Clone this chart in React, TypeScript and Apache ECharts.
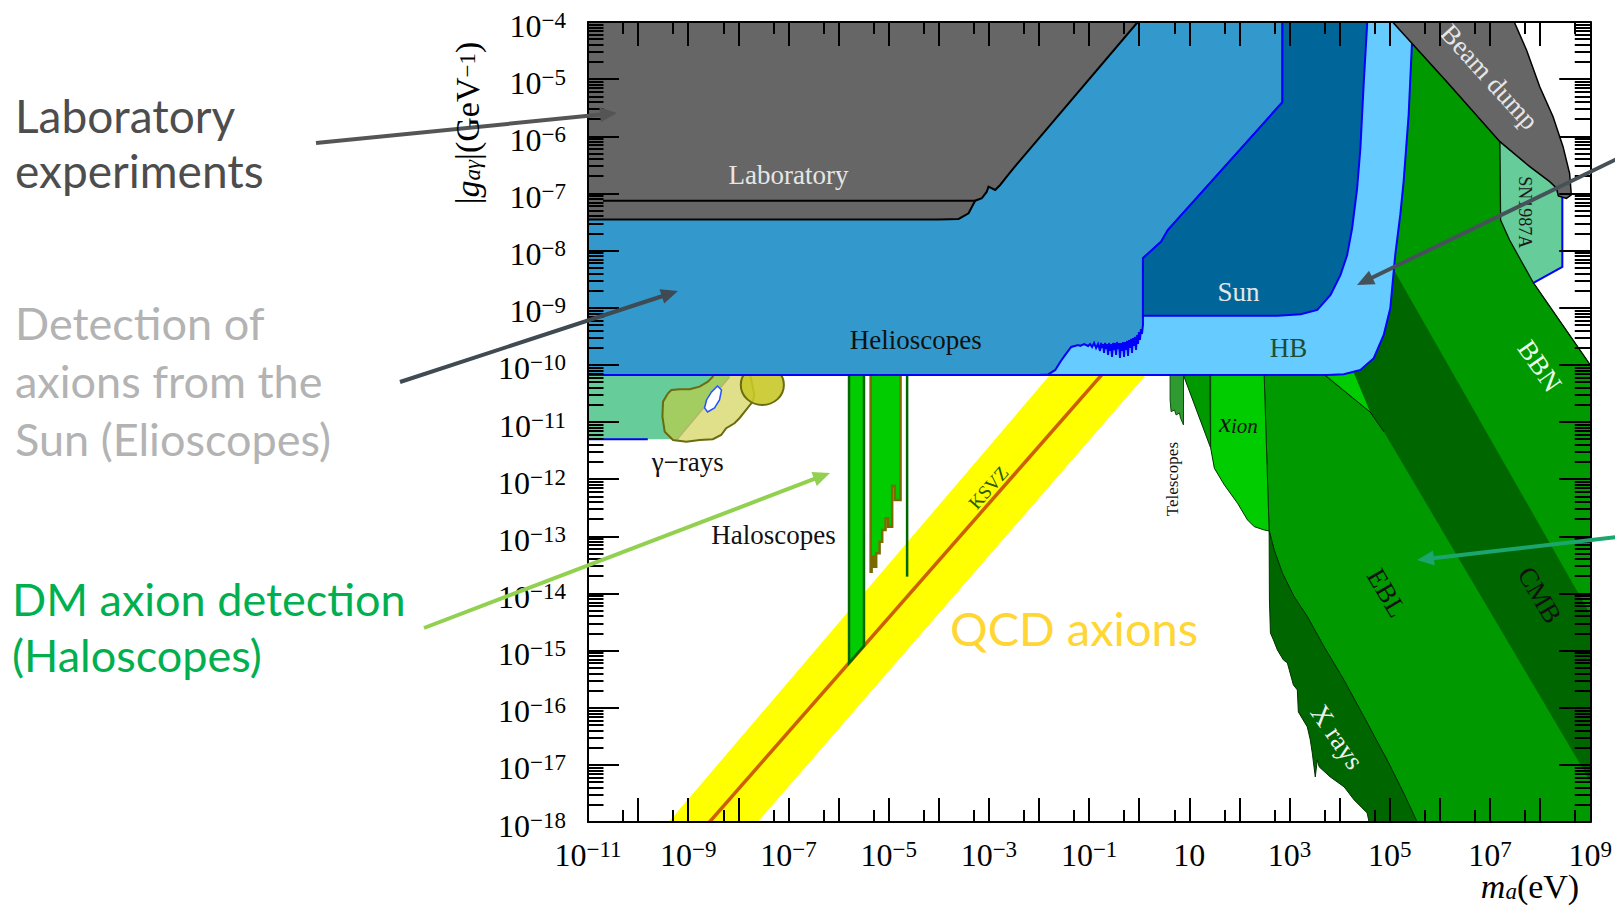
import React, { useEffect, useRef } from 'react';
import * as echarts from 'echarts';

// Axes: log10 of axion mass (eV) and log10 of |g| (GeV^-1)
const X_MIN = -11, X_MAX = 9, Y_MIN = -18, Y_MAX = -4;
const xLabelExps = [-11, -9, -7, -5, -3, -1, 1, 3, 5, 7, 9];
const yLabelExps = [-18, -17, -16, -15, -14, -13, -12, -11, -10, -9, -8, -7, -6, -5, -4];

// ---- regions, points are [log10 m_a, log10 g] ----
const laboratory = [[-11.5, -3.8], [0.15, -3.8], [-0.03, -4.0], [-2.511, -6.56], [-2.644, -6.707], [-2.775, -6.852], [-2.875, -6.94], [-3.008, -6.882], [-3.042, -6.969], [-3.141, -7.085], [-3.273, -7.127], [-3.32, -7.202], [-3.406, -7.347], [-3.604, -7.447], [-4.002, -7.456], [-11.5, -7.456]];
const labUpperLine = [[-10.7, -7.127], [-3.273, -7.127]];

const helioscopes = [[-11.5, -3.8], [2.857, -3.8], [2.857, -5.405], [0.571, -7.64], [0.437, -7.844], [0.107, -8.107], [0.074, -8.135], [0.074, -9.302],
  [0.054, -9.46], [0.034, -9.372], [0.014, -9.565], [-0.006, -9.425], [-0.025, -9.635], [-0.045, -9.477], [-0.065, -9.74], [-0.085, -9.512], [-0.105, -9.67], [-0.125, -9.53], [-0.145, -9.792], [-0.165, -9.547], [-0.185, -9.705], [-0.205, -9.565], [-0.224, -9.845], [-0.244, -9.582], [-0.264, -9.74], [-0.284, -9.6], [-0.304, -9.862], [-0.324, -9.6], [-0.344, -9.757], [-0.364, -9.617], [-0.384, -9.88], [-0.404, -9.617], [-0.423, -9.722], [-0.443, -9.6], [-0.463, -9.827], [-0.483, -9.617], [-0.503, -9.74], [-0.523, -9.617], [-0.543, -9.862], [-0.563, -9.635], [-0.583, -9.757], [-0.603, -9.617], [-0.622, -9.827], [-0.642, -9.635], [-0.662, -9.722], [-0.682, -9.617], [-0.702, -9.792], [-0.722, -9.635], [-0.742, -9.705], [-0.762, -9.617], [-0.782, -9.757], [-0.821, -9.635], [-0.861, -9.705], [-0.901, -9.617], [-0.941, -9.687], [-0.98, -9.635], [-1.02, -9.67], [-1.1, -9.635], [-1.179, -9.67], [-1.219, -9.652],
  [-1.358, -9.687], [-1.477, -9.827], [-1.577, -9.949], [-1.676, -10.089], [-1.815, -10.168], [-2.014, -10.177], [-11.5, -10.177]];

const sun = [[2.857, -3.8], [4.56, -3.8], [4.547, -4.052], [4.481, -5.045], [4.413, -6.21], [4.348, -6.91], [4.248, -7.61], [4.149, -8.077], [4.016, -8.427], [3.817, -8.777], [3.553, -9.039], [3.221, -9.115], [2.757, -9.139], [0.074, -9.139], [0.074, -8.135], [0.107, -8.107], [0.437, -7.844], [0.571, -7.64], [2.857, -5.405]];

const horizontalBranch = [[-2.014, -3.8], [5.48, -3.8], [5.441, -4.402], [5.376, -5.627], [5.276, -6.794], [5.209, -7.377], [5.109, -8.077], [5.01, -9.01], [4.879, -9.477], [4.68, -9.884], [4.414, -10.089], [4.083, -10.164], [3.751, -10.177], [-2.014, -10.177]];

const gammaTeal = [[-11.5, -10.1], [-8.1, -10.1], [-8.177, -10.212], [-9.231, -11.3], [-11.5, -11.3]];
const gammaEdge = [[-8.177, -10.212], [-9.231, -11.314]];
const gammaBottom = [[-11.5, -11.3], [-9.807, -11.3]];
const gammaBlob = [[-9.336, -10.439], [-9.171, -10.427], [-8.972, -10.427], [-8.773, -10.381], [-8.608, -10.294], [-8.509, -10.206], [-8.51, -10.1], [-7.78, -10.1], [-7.68, -10.53], [-7.714, -10.644], [-7.845, -10.789], [-7.978, -10.934], [-8.077, -11.022], [-8.243, -11.109], [-8.342, -11.227], [-8.509, -11.302], [-8.773, -11.314], [-9.038, -11.344], [-9.304, -11.314], [-9.469, -11.169], [-9.515, -10.906], [-9.503, -10.644], [-9.404, -10.497]];
const gammaDiskCenter = [-7.521, -10.352];
const gammaDiskRadii = [0.43, 0.35];
const gammaHole = [[-8.416, -10.369], [-8.336, -10.439], [-8.376, -10.614], [-8.475, -10.754], [-8.614, -10.824], [-8.674, -10.754], [-8.634, -10.614], [-8.535, -10.474]];

const qcdBand = [[-9.68, -18.3], [-1.61, -10.0], [0.31, -10.0], [-7.91, -18.3]];
const ksvzLine = [[-8.875, -18.3], [-0.575, -10.0]];

const haloscope1 = [[-5.791, -10.1], [-5.493, -10.1], [-5.493, -14.918], [-5.791, -15.216]];
const haloscope2 = [[-5.36, -10.1], [-4.763, -10.1], [-4.763, -12.364], [-4.877, -12.364], [-4.877, -12.119], [-4.93, -12.119], [-4.93, -12.831], [-5.01, -12.831], [-5.01, -12.684], [-5.062, -12.684], [-5.062, -12.889], [-5.129, -12.889], [-5.129, -13.094], [-5.181, -13.094], [-5.181, -13.297], [-5.249, -13.297], [-5.249, -13.531], [-5.294, -13.531], [-5.294, -13.356], [-5.34, -13.356], [-5.34, -13.619], [-5.36, -13.619]];
const haloscope3 = [[-4.632, -10.1], [-4.632, -13.706]];

const telescopes = [[0.616, -10.15], [0.883, -10.15], [0.883, -11.052], [0.823, -10.929], [0.803, -10.842], [0.736, -10.877], [0.704, -10.789], [0.636, -10.819], [0.616, -10.614]];
const ionStrip = [[0.869, -10.15], [1.406, -10.15], [1.425, -11.454]];
const xIon = [[1.425, -10.1], [2.49, -10.1], [2.592, -12.906], [2.493, -12.889], [2.294, -12.831], [2.161, -12.714], [1.962, -12.422], [1.698, -12.101], [1.499, -11.809], [1.425, -11.454]];

const bbnEbl = [[4.75, -3.8], [6.14, -3.8], [7.926, -6.24], [8.324, -7.115], [8.324, -8.252], [7.867, -8.567], [8.93, -9.914], [9.2, -10.255], [9.2, -18.3], [5.62, -18.14], [5.541, -17.993], [5.276, -17.496], [4.944, -16.913], [4.481, -16.156], [4.083, -15.514], [3.686, -14.931], [3.354, -14.406], [3.089, -14.056], [2.857, -13.646], [2.692, -13.239], [2.592, -12.901], [2.493, -10.206], [2.493, -9.56]];
const cmbBand = [[4.149, -6.905], [9.119, -14.544], [9.119, -17.465], [4.885, -11.174], [4.606, -10.824], [4.288, -10.212], [4.288, -9.56]];
const brightWedge = [[3.70, -10.15], [4.288, -10.15], [4.606, -10.824]];
const wedgeEdge = [[3.70, -10.18], [4.606, -10.824], [4.885, -11.174]];
const xRays = [[2.592, -12.906], [2.598, -14.114], [2.618, -14.691], [2.678, -14.814], [2.757, -14.989], [2.877, -15.164], [2.956, -15.216], [3.076, -15.601], [3.155, -15.689], [3.175, -16.073], [3.354, -16.336], [3.414, -16.564], [3.453, -16.791], [3.513, -17.211], [3.553, -16.913], [3.592, -17.036], [3.811, -17.211], [3.95, -17.298], [4.089, -17.386], [4.288, -17.613], [4.447, -17.753], [4.547, -17.841], [4.586, -17.998], [4.65, -18.14], [5.62, -18.14], [5.541, -17.993], [5.276, -17.496], [4.944, -16.913], [4.481, -16.156], [4.083, -15.514], [3.686, -14.931], [3.354, -14.406], [3.089, -14.056], [2.857, -13.646], [2.692, -13.239], [2.592, -12.901]];

const sn1987a = [[7.19, -6.0], [7.197, -6.094], [7.211, -7.465], [7.39, -7.815], [7.867, -8.567], [8.443, -8.287], [8.443, -7.062], [8.40, -6.75], [7.6, -6.0]];
const snBlackEdge = [[7.197, -6.094], [7.211, -7.465], [7.39, -7.815], [7.867, -8.567], [8.93, -9.914], [9.2, -10.255]];
const snBlueEdge = [[7.867, -8.567], [8.443, -8.287], [8.443, -7.062]];

const beamDump = [[4.87, -3.8], [5.078, -4.02], [6.137, -5.045], [7.197, -6.094], [7.793, -6.532], [8.191, -6.794], [8.324, -6.905], [8.364, -7.045], [8.523, -7.088], [8.622, -7.027], [8.588, -6.647], [8.457, -6.182], [8.258, -5.657], [7.992, -5.132], [7.728, -4.49], [7.495, -4.023], [7.45, -3.8]];

// labels inside the plot, anchored in data space
const plotLabels = [
  { text: 'Laboratory', at: [-7.0, -6.68], rot: 0, color: '#e6e6e6', size: 27 },
  { text: 'Helioscopes', at: [-4.46, -9.56], rot: 0, color: '#111111', size: 27 },
  { text: 'Sun', at: [1.98, -8.72], rot: 0, color: '#e6e6e6', size: 27 },
  { text: 'HB', at: [2.98, -9.70], rot: 0, color: '#1f4d33', size: 27 },
  { text: 'γ−rays', at: [-9.01, -11.70], rot: 0, color: '#111111', size: 27 },
  { text: 'Haloscopes', at: [-7.30, -12.98], rot: 0, color: '#111111', size: 27 },
  { text: 'KSVZ', at: [-3.01, -12.15], rot: 48.6, color: '#2d5a00', size: 19 },
  { text: 'Telescopes', at: [0.67, -12.0], rot: 90, color: '#111111', size: 17 },
  { text: 'Beam dump', at: [6.99, -4.96], rot: -47.8, color: '#e6e6e6', size: 27 },
  { text: 'SN1987A', at: [7.69, -7.33], rot: -90, color: '#1a1a1a', size: 18 },
  { text: 'BBN', at: [7.99, -10.02], rot: -55.4, color: '#eaffea', size: 27 },
  { text: 'EBL', at: [4.94, -13.99], rot: -59.5, color: '#111111', size: 27 },
  { text: 'CMB', at: [7.99, -14.03], rot: -59.5, color: '#111111', size: 27 },
  { text: 'X rays', at: [3.95, -16.51], rot: -55.5, color: '#f0f0f0', size: 27 },
  { text: '{x|x}{s|ion}', at: [1.98, -11.0], rot: 0, color: '#111111', size: 27 },
  { text: 'QCD axions', at: [-1.30, -14.60], rot: 0, color: '#ffd633', size: 47, family: 'Lato' },
];

// annotations outside the plot (page pixels)
const sideTexts = [
  { text: 'Laboratory', x: 15, y: 115, color: '#4d4d4d', size: 46 },
  { text: 'experiments', x: 15, y: 170, color: '#4d4d4d', size: 46 },
  { text: 'Detection of', x: 15, y: 323, color: '#b3b3b3', size: 45 },
  { text: 'axions from the', x: 15, y: 381, color: '#b3b3b3', size: 45 },
  { text: 'Sun (Elioscopes)', x: 15, y: 439, color: '#b3b3b3', size: 45 },
  { text: 'DM axion detection', x: 12, y: 599, color: '#00b050', size: 45 },
  { text: '(Haloscopes)', x: 12, y: 655, color: '#00b050', size: 45 },
];
const arrows = [
  { from: [316, 143], to: [617, 113], color: '#555555' },
  { from: [400, 382], to: [678, 291], color: '#3f4a52' },
  { from: [1625, 155], to: [1357, 285], color: '#46525a' },
  { from: [424, 628], to: [830, 473], color: '#92d050' },
  { from: [1625, 536], to: [1417, 560], color: '#1aa66e' },
];

const SERIF = "'Liberation Serif', 'Times New Roman', serif";

function shapeSeries(kind: 'polygon' | 'polyline', pts: number[][], style: any) {
  return {
    type: 'custom',
    coordinateSystem: 'cartesian2d',
    xAxisIndex: 0,
    yAxisIndex: 0,
    clip: true,
    silent: true,
    data: [[X_MIN, Y_MIN]],
    renderItem: (_p: any, api: any) => ({
      type: kind,
      shape: { points: pts.map((p) => api.coord(p)) },
      style: kind === 'polyline' ? { fill: null, ...style } : style,
    }),
  };
}
const poly = (pts: number[][], style: any) => shapeSeries('polygon', pts, style);
const pline = (pts: number[][], style: any) => shapeSeries('polyline', pts, style);

const log10 = Math.log10;
const xMinor: number[] = [];
for (let n = X_MIN; n < X_MAX; n++) xMinor.push(n + log10(5));
const yMinor: number[] = [];
for (let n = Y_MIN; n < Y_MAX; n++) for (let k = 2; k <= 9; k++) yMinor.push(n + log10(k));

const supText = (e: number) => (e < 0 ? '\u2212' + -e : String(e));
const tickRich = {
  b: { fontFamily: SERIF, fontSize: 32, lineHeight: 33, color: '#000', verticalAlign: 'bottom' },
  s: { fontFamily: SERIF, fontSize: 23, lineHeight: 22, color: '#000', verticalAlign: 'top' },
};

function xAxisDef(position: 'top' | 'bottom', minor: boolean, labels: boolean) {
  return {
    type: 'value', position, min: X_MIN, max: X_MAX, interval: 1, z: 10,
    axisLine: { show: !minor, onZero: false, lineStyle: { color: '#000', width: 2 } },
    axisTick: minor
      ? { show: true, inside: true, length: 12, customValues: xMinor, lineStyle: { color: '#000', width: 2 } }
      : { show: true, inside: true, length: 24, lineStyle: { color: '#000', width: 2 } },
    axisLabel: labels
      ? {
          show: true, margin: 16, rich: tickRich,
          formatter: (v: number) => {
            const e = Math.round(v);
            if (!xLabelExps.includes(e)) return '';
            return e === 1 ? '{b|10}' : `{b|10}{s|${supText(e)}}`;
          },
        }
      : { show: false },
    splitLine: { show: false },
  };
}
function yAxisDef(position: 'left' | 'right', minor: boolean, labels: boolean) {
  return {
    type: 'value', position, min: Y_MIN, max: Y_MAX, interval: 1, z: 10,
    axisLine: { show: !minor, onZero: false, lineStyle: { color: '#000', width: 2 } },
    axisTick: minor
      ? { show: true, inside: true, length: 15.5, customValues: yMinor, lineStyle: { color: '#000', width: 2 } }
      : { show: true, inside: true, length: 31, lineStyle: { color: '#000', width: 2 } },
    axisLabel: labels
      ? {
          show: true, margin: 22, padding: [6, 0, 0, 0], rich: tickRich,
          formatter: (v: number) => {
            const e = Math.round(v);
            return yLabelExps.includes(e) ? `{b|10}{s|${supText(e)}}` : '';
          },
        }
      : { show: false },
    splitLine: { show: false },
  };
}

function arrowElements(a: { from: number[]; to: number[]; color: string }) {
  const [x1, y1] = a.from;
  const [x2, y2] = a.to;
  const L = Math.hypot(x2 - x1, y2 - y1);
  const ux = (x2 - x1) / L, uy = (y2 - y1) / L;
  const head = 17, half = 7.5;
  const bx = x2 - ux * head, by = y2 - uy * head;
  return [
    { type: 'line', z: 100, shape: { x1, y1, x2: bx + ux, y2: by + uy }, style: { stroke: a.color, lineWidth: 4 } },
    {
      type: 'polygon', z: 100,
      shape: { points: [[x2, y2], [bx - uy * half, by + ux * half], [bx + uy * half, by - ux * half]] },
      style: { fill: a.color },
    },
  ];
}

const greenEdge = { stroke: '#003300', lineWidth: 1 };

const series: any[] = [
  poly(qcdBand, { fill: '#ffff00' }),
  pline(ksvzLine, { stroke: '#cc5f00', lineWidth: 3.5 }),
  poly(gammaTeal, { fill: '#66cc99' }),
  pline(gammaEdge, { stroke: '#8a9ab0', lineWidth: 1.5 }),
  pline(gammaBottom, { stroke: '#0000ff', lineWidth: 2 }),
  poly(gammaBlob, { fill: 'rgba(203,203,60,0.6)', stroke: '#6b6b10', lineWidth: 2 }),
  {
    type: 'custom', coordinateSystem: 'cartesian2d', clip: true, silent: true,
    data: [gammaDiskCenter],
    renderItem: (_p: any, api: any) => {
      const c = api.coord(gammaDiskCenter);
      const s = api.size(gammaDiskRadii);
      return { type: 'ellipse', shape: { cx: c[0], cy: c[1], rx: s[0], ry: s[1] }, style: { fill: 'rgba(200,200,40,0.9)', stroke: '#6b6b10', lineWidth: 2 } };
    },
  },
  poly(gammaHole, { fill: '#ffffff', stroke: '#2255ff', lineWidth: 1.5 }),
  poly(bbnEbl, { fill: '#009900', ...greenEdge }),
  poly(cmbBand, { fill: '#006600' }),
  poly(brightWedge, { fill: '#00cc00' }),
  pline(wedgeEdge, { stroke: '#002200', lineWidth: 1 }),
  poly(xRays, { fill: '#006600', ...greenEdge }),
  poly(ionStrip, { fill: '#009900', ...greenEdge }),
  poly(xIon, { fill: '#00cc00', ...greenEdge }),
  poly(telescopes, { fill: '#2f9a2f', stroke: '#0d4d0d', lineWidth: 1 }),
  poly(sn1987a, { fill: '#66cc99' }),
  pline(snBlackEdge, { stroke: '#001a00', lineWidth: 1.3 }),
  pline(snBlueEdge, { stroke: '#0000ff', lineWidth: 2 }),
  poly(haloscope1, { fill: '#00cc00', stroke: '#006600', lineWidth: 2.5 }),
  poly(haloscope2, { fill: '#00cc00', stroke: '#7a6a00', lineWidth: 2.5 }),
  pline(haloscope3, { stroke: '#006600', lineWidth: 2.5 }),
  poly(horizontalBranch, { fill: '#66ccff', stroke: '#0000ff', lineWidth: 2 }),
  poly(helioscopes, { fill: '#3399cc', stroke: '#0000ff', lineWidth: 2 }),
  poly(sun, { fill: '#006699', stroke: '#0000ff', lineWidth: 2 }),
  poly(laboratory, { fill: '#666666', stroke: '#000000', lineWidth: 2 }),
  pline(labUpperLine, { stroke: '#000000', lineWidth: 2 }),
  poly(beamDump, { fill: '#666666', stroke: '#000000', lineWidth: 1.5 }),
  {
    type: 'custom', coordinateSystem: 'cartesian2d', clip: false, silent: true, z: 4,
    data: plotLabels.map((l) => l.at),
    renderItem: (params: any, api: any) => {
      const l = plotLabels[params.dataIndex];
      const c = api.coord(l.at);
      return {
        type: 'text', x: c[0], y: c[1], rotation: (l.rot * Math.PI) / 180,
        style: {
          text: l.text, fill: l.color, fontSize: l.size, fontFamily: l.family || SERIF,
          align: 'center', verticalAlign: 'middle',
          rich: {
            x: { fontFamily: SERIF, fontStyle: 'italic', fontSize: 27, lineHeight: 28, verticalAlign: 'bottom', fill: '#111' },
            s: { fontFamily: SERIF, fontStyle: 'italic', fontSize: 21, lineHeight: 14, verticalAlign: 'bottom', fill: '#111' },
          },
        },
      };
    },
  },
];

const nameRich = {
  r: { fontFamily: SERIF, fontSize: 34, lineHeight: 28, verticalAlign: 'bottom', fill: '#000' },
  i: { fontFamily: SERIF, fontStyle: 'italic', fontSize: 34, lineHeight: 28, verticalAlign: 'bottom', fill: '#000' },
  sub: { fontFamily: SERIF, fontStyle: 'italic', fontSize: 23, lineHeight: 10, verticalAlign: 'bottom', fill: '#000' },
  sup: { fontFamily: SERIF, fontSize: 23, lineHeight: 14, verticalAlign: 'top', fill: '#000' },
};

const graphicElements: any[] = [
  ...sideTexts.map((t) => ({
    type: 'text', x: t.x, y: t.y, z: 100,
    style: { text: t.text, fill: t.color, fontSize: t.size, fontFamily: 'Lato', align: 'left', verticalAlign: 'middle' },
  })),
  ...arrows.flatMap(arrowElements),
  {
    type: 'text', x: 470, y: 123, rotation: Math.PI / 2, z: 100,
    style: { text: '{r||}{i|g}{sub|aγ}{r||(GeV}{sup|\u22121}{r|)}', align: 'center', verticalAlign: 'middle', rich: nameRich },
  },
  {
    type: 'text', x: 1530, y: 889, z: 100,
    style: { text: '{i|m}{sub|a}{r|(eV)}', align: 'center', verticalAlign: 'middle', rich: nameRich },
  },
];

const option: any = {
  animation: false,
  backgroundColor: '#ffffff',
  grid: { left: 588, top: 22, width: 1006, height: 800, containLabel: false },
  xAxis: [xAxisDef('bottom', false, true), xAxisDef('bottom', true, false), xAxisDef('top', false, false), xAxisDef('top', true, false)],
  yAxis: [yAxisDef('left', false, true), yAxisDef('left', true, false), yAxisDef('right', false, false), yAxisDef('right', true, false)],
  series,
  graphic: { elements: graphicElements },
};

export default function App() {
  const ref = useRef<HTMLDivElement>(null);
  useEffect(() => {
    if (!ref.current) return;
    const chart = echarts.init(ref.current, null, { renderer: 'svg' });
    chart.setOption(option);
    return () => chart.dispose();
  }, []);
  return <div ref={ref} style={{ position: 'fixed', left: 0, top: 0, width: 1615, height: 910, background: '#fff' }} />;
}
